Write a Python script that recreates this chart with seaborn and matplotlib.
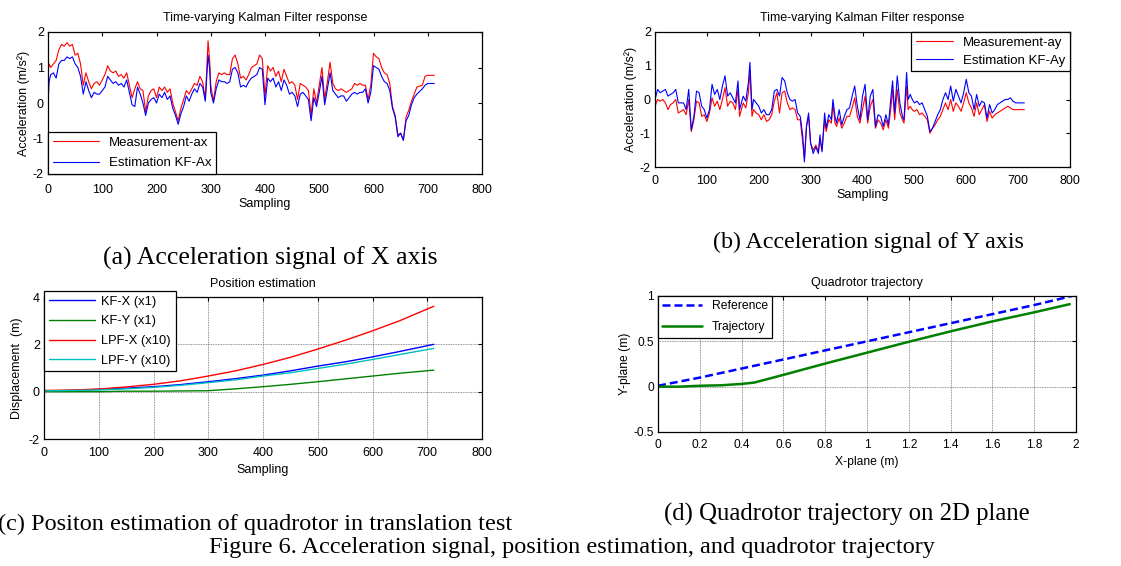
import numpy as np
import pandas as pd
import matplotlib
matplotlib.use("Agg")
import matplotlib.pyplot as plt
import seaborn as sns

# ---------------- data ----------------
# (a) X-axis acceleration
xa_samples = [0, 2, 5, 10, 15, 20, 25, 30, 35, 40,
              45, 50, 55, 60, 65, 70, 75, 80, 85, 90,
              95, 100, 105, 110, 115, 120, 125, 130, 135, 140,
              145, 150, 155, 160, 165, 170, 175, 180, 185, 190,
              195, 200, 205, 210, 215, 220, 225, 230, 235, 240,
              245, 250, 255, 260, 265, 270, 275, 280, 285, 290,
              295, 298, 300, 305, 310, 315, 320, 325, 330, 335,
              340, 345, 350, 355, 360, 365, 370, 375, 380, 385,
              390, 395, 400, 405, 410, 415, 420, 425, 430, 435,
              440, 445, 450, 455, 460, 465, 470, 475, 480, 485,
              490, 495, 500, 505, 510, 515, 520, 525, 530, 535,
              540, 545, 550, 555, 560, 565, 570, 575, 580, 585,
              590, 595, 600, 605, 610, 615, 620, 625, 630, 635,
              640, 645, 650, 655, 660, 665, 670, 675, 680, 690,
              695, 700, 712]
meas_ax = [0.85, 1.1, 1.0, 1.1, 1.2, 1.5, 1.65, 1.6, 1.7, 1.6,
           1.65, 1.35, 1.4, 1.1, 0.5, 0.85, 0.6, 0.4, 0.55, 0.6,
           0.5, 0.65, 0.8, 1.05, 0.9, 0.85, 0.9, 0.75, 0.8, 0.7,
           0.85, 0.5, 0.15, 0.4, 0.6, 0.4, 0.35, -0.25, 0.2, 0.35,
           0.4, 0.15, 0.45, 0.35, 0.45, 0.3, 0.4, 0.0, -0.25, -0.5,
           -0.15, 0.1, 0.35, 0.25, 0.4, 0.55, 0.5, 0.75, 0.6, 0.1,
           1.75, 1.2, 0.5, 0.05, 0.6, 0.85, 0.8, 0.85, 0.8, 0.8,
           1.25, 1.35, 1.1, 0.7, 0.75, 0.65, 0.8, 1.0, 1.05, 1.1,
           1.35, 1.25, 0.2, 1.05, 0.9, 1.0, 0.75, 0.9, 0.6, 0.95,
           0.75, 0.55, 0.6, 0.5, 0.1, 0.55, 0.5, 0.45, 0.35, -0.35,
           0.4, 0.0, 0.5, 1.0, 0.1, 0.6, 1.15, 0.55, 0.4, 0.35,
           0.4, 0.35, 0.3, 0.35, 0.4, 0.55, 0.5, 0.55, 0.5, 0.5,
           0.1, 0.5, 1.4, 1.3, 1.25, 1.0, 0.85, 0.8, 0.55, -0.1,
           -0.35, -0.9, -0.85, -1.05, -0.4, -0.2, 0.05, 0.25, 0.45, 0.5,
           0.75, 0.78, 0.78]
kf_ax = [0.0, 0.6, 0.8, 0.85, 0.7, 1.1, 1.2, 1.2, 1.3, 1.25,
         1.3, 1.1, 1.0, 0.75, 0.25, 0.6, 0.35, 0.15, 0.3, 0.25,
         0.25, 0.35, 0.45, 0.75, 0.65, 0.55, 0.6, 0.5, 0.55, 0.45,
         0.65, 0.3, -0.05, -0.1, 0.45, 0.25, 0.0, -0.35, 0.0, 0.1,
         0.15, 0.0, 0.25, 0.15, 0.3, 0.1, 0.2, -0.15, -0.35, -0.6,
         -0.3, -0.1, 0.2, 0.05, 0.25, 0.4, 0.3, 0.55, 0.45, 0.05,
         1.35, 0.95, 0.3, 0.0, 0.4, 0.65, 0.6, 0.6, 0.55, 0.6,
         0.95, 1.0, 0.85, 0.45, 0.5, 0.45, 0.6, 0.7, 0.75, 0.8,
         1.0, 0.95, -0.05, 0.7, 0.6, 0.7, 0.45, 0.6, 0.35, 0.65,
         0.5, 0.25, 0.3, 0.2, -0.1, 0.25, 0.3, 0.2, 0.1, -0.5,
         0.15, -0.1, 0.3, 0.75, -0.05, 0.4, 0.85, 0.35, 0.25, 0.15,
         0.2, 0.2, 0.05, 0.15, 0.25, 0.3, 0.25, 0.3, 0.3, 0.4,
         0.0, 0.3, 1.05, 1.0, 0.95, 0.75, 0.6, 0.55, 0.35, -0.15,
         -0.4, -0.95, -0.85, -1.05, -0.5, -0.35, -0.05, 0.15, 0.25, 0.4,
         0.5, 0.55, 0.55]

# (b) Y-axis acceleration
xb_samples = [0, 5, 10, 15, 20, 25, 30, 35, 40, 45,
              50, 55, 60, 65, 70, 75, 80, 85, 90, 95,
              100, 105, 110, 115, 120, 125, 130, 135, 140, 145,
              150, 155, 160, 163, 170, 175, 180, 183, 187, 190,
              195, 200, 205, 210, 215, 220, 225, 230, 235, 240,
              245, 250, 255, 260, 265, 270, 275, 280, 285, 288,
              292, 296, 300, 305, 310, 315, 318, 322, 327, 330,
              335, 340, 343, 347, 350, 355, 360, 365, 370, 375,
              380, 385, 390, 395, 400, 405, 410, 415, 420, 425,
              430, 435, 440, 445, 450, 455, 458, 462, 467, 472,
              477, 480, 485, 488, 492, 496, 500, 505, 510, 515,
              520, 525, 530, 535, 540, 545, 550, 555, 560, 565,
              570, 575, 580, 585, 590, 595, 600, 605, 610, 615,
              620, 625, 630, 635, 640, 645, 650, 655, 660, 665,
              670, 675, 680, 685, 690, 695, 712]
meas_ay = [-0.2, 0.0, -0.05, 0.0, -0.1, -0.3, -0.15, -0.1, 0.0, -0.4,
           -0.35, -0.3, -0.45, 0.0, -0.95, -0.6, -0.05, -0.1, -0.5, -0.45,
           -0.65, -0.4, 0.05, -0.2, -0.05, -0.3, 0.0, 0.35, -0.2, -0.05,
           -0.1, -0.3, 0.3, -0.5, -0.1, -0.25, 0.2, 0.85, -0.5, -0.3,
           -0.4, -0.45, -0.6, -0.45, -0.65, -0.6, -0.45, -0.05, 0.2, -0.4,
           0.2, 0.25, -0.1, -0.3, -0.25, -0.3, -0.6, -0.6, -1.3, -1.75,
           -0.8, -0.5, -1.3, -1.5, -1.35, -1.55, -1.2, -1.5, -0.6, -0.95,
           -0.6, -0.7, -0.1, -0.7, -0.8, -0.55, -0.85, -0.7, -0.5, -0.5,
           -0.25, 0.05, -0.5, -0.7, -0.3, 0.1, -0.7, -0.2, 0.0, -0.85,
           -0.6, -0.7, -0.9, -0.6, -0.85, -0.2, 0.3, -0.6, 0.3, -0.4,
           -0.6, -0.7, 0.4, -0.3, -0.2, -0.3, -0.35, -0.3, -0.45, -0.4,
           -0.5, -0.6, -1.0, -0.85, -0.75, -0.6, -0.5, -0.3, -0.1, -0.3,
           0.0, -0.35, -0.1, -0.2, -0.35, -0.1, 0.2, -0.1, -0.25, -0.5,
           -0.1, -0.45, -0.3, -0.15, -0.65, -0.35, -0.55, -0.45, -0.4, -0.35,
           -0.3, -0.25, -0.2, -0.25, -0.3, -0.3, -0.3]
kf_ay = [0.0, 0.3, 0.2, 0.25, 0.3, 0.1, 0.15, 0.2, 0.3, -0.1,
         -0.1, -0.1, -0.3, 0.3, -0.9, -0.5, 0.25, 0.2, -0.2, -0.3,
         -0.55, -0.3, 0.45, 0.15, 0.3, 0.0, 0.4, 0.7, 0.1, 0.2,
         0.05, -0.1, 0.55, -0.3, 0.1, -0.05, 0.5, 1.1, -0.3, 0.0,
         -0.1, -0.2, -0.4, -0.3, -0.45, -0.45, -0.3, 0.25, 0.3, 0.1,
         0.65, 0.55, 0.2, 0.0, -0.05, 0.0, -0.4, -0.5, -1.1, -1.85,
         -0.8, -0.4, -1.3, -1.6, -1.4, -1.6, -1.05, -1.55, -0.4, -0.85,
         -0.45, -0.6, 0.0, -0.5, -0.7, -0.3, -0.75, -0.5, -0.3, -0.25,
         0.1, 0.4, -0.2, -0.6, 0.1, 0.45, -0.6, 0.1, 0.3, -0.8,
         -0.45, -0.5, -0.8, -0.45, -0.75, 0.1, 0.55, -0.4, 0.7, -0.1,
         -0.5, -0.6, 0.8, 0.0, 0.15, 0.0, -0.1, -0.05, -0.15, -0.1,
         -0.3, -0.5, -0.95, -0.85, -0.65, -0.45, -0.3, 0.0, 0.2, 0.0,
         0.4, -0.05, 0.3, 0.1, -0.1, 0.2, 0.6, 0.2, 0.1, -0.3,
         0.15, -0.2, -0.05, -0.1, -0.55, -0.15, -0.4, -0.3, -0.15, -0.1,
         -0.05, 0.0, 0.0, 0.05, -0.05, -0.1, -0.1]

# (c) position estimation
xc_samples = [0, 50, 100, 150, 200, 250, 300, 350, 400, 450, 500, 550, 600, 650, 712]
kf_x_pos = [0.02, 0.05, 0.10, 0.15, 0.21, 0.30, 0.42, 0.55, 0.70, 0.88, 1.08, 1.26, 1.47, 1.70, 2.00]
kf_y_pos = [0.00, 0.00, 0.00, 0.02, 0.02, 0.03, 0.04, 0.12, 0.21, 0.31, 0.42, 0.54, 0.66, 0.78, 0.91]
lpf_x_pos = [0.05, 0.07, 0.11, 0.20, 0.31, 0.46, 0.66, 0.88, 1.15, 1.45, 1.80, 2.17, 2.57, 3.00, 3.61]
lpf_y_pos = [0.03, 0.05, 0.07, 0.12, 0.18, 0.27, 0.38, 0.50, 0.66, 0.80, 0.98, 1.16, 1.36, 1.57, 1.83]

# (d) trajectory
ref_x = [0.0, 0.2, 0.4, 0.6, 0.8, 1.0, 1.2, 1.4, 1.6, 1.8, 1.98]
ref_y = [0.01, 0.10, 0.20, 0.30, 0.40, 0.50, 0.60, 0.70, 0.80, 0.90, 1.00]
traj_x = [0.0, 0.1, 0.2, 0.3, 0.4, 0.46, 0.6, 0.8, 1.0, 1.2, 1.4, 1.6, 1.8, 1.97]
traj_y = [0.0, 0.0, 0.01, 0.015, 0.03, 0.045, 0.13, 0.255, 0.375, 0.495, 0.61, 0.72, 0.82, 0.91]

# ---------------- style ----------------
sns.set_style("white")
plt.rcParams["font.family"] = ["Liberation Sans", "DejaVu Sans"]
plt.rcParams["axes.unicode_minus"] = False
plt.rcParams["text.color"] = "black"
plt.rcParams["axes.labelcolor"] = "black"
plt.rcParams["xtick.color"] = "black"
plt.rcParams["ytick.color"] = "black"
plt.rcParams["axes.linewidth"] = 0.9
plt.rcParams["axes.edgecolor"] = "black"

fig = plt.figure(figsize=(11.21, 5.66), dpi=100)
W, H = 1121.0, 566.0


def add_ax(l, t, r, b):
    return fig.add_axes([l / W, 1 - b / H, (r - l) / W, (b - t) / H])


def matlab_axes(ax, tick_fs=9.0, xpad=6):
    ax.tick_params(direction="in", length=3, width=0.8, top=True, right=True,
                   labelsize=tick_fs, colors="black", pad=3)
    ax.tick_params(axis="x", pad=xpad)
    for s in ax.spines.values():
        s.set_visible(True)
        s.set_color("black")
        s.set_linewidth(0.9)


def matlab_legend(ax, **kw):
    leg = ax.legend(frameon=True, fancybox=False, shadow=False, framealpha=1,
                    edgecolor="black", borderpad=0.35, handletextpad=0.8, **kw)
    leg.get_frame().set_linewidth(0.9)
    return leg


LBL = 9.0
TTL = 9.0

# (a)
ax_a = add_ax(48, 32, 482, 174)
sns.lineplot(x=xa_samples, y=meas_ax, ax=ax_a, color="#ff0000", lw=0.8, label="Measurement-ax")
sns.lineplot(x=xa_samples, y=kf_ax, ax=ax_a, color="#0000ff", lw=0.8, label="Estimation KF-Ax")
ax_a.set_xlim(0, 800)
ax_a.set_ylim(-2, 2)
ax_a.set_xticks(range(0, 801, 100))
ax_a.set_yticks([-2, -1, 0, 1, 2])
matlab_axes(ax_a, xpad=7)
ax_a.set_title("Time-varying Kalman Filter response", fontsize=TTL, pad=8)
ax_a.set_xlabel("Sampling", fontsize=LBL, labelpad=2)
ax_a.set_ylabel("Acceleration (m/s²)", fontsize=LBL, labelpad=2)
matlab_legend(ax_a, loc="lower left", bbox_to_anchor=(0, 0), borderaxespad=0,
              fontsize=9.5, handlelength=3.5, labelspacing=0.62)

# (b)
ax_b = add_ax(655, 32, 1070, 167)
sns.lineplot(x=xb_samples, y=meas_ay, ax=ax_b, color="#ff0000", lw=0.8, label="Measurement-ay")
sns.lineplot(x=xb_samples, y=kf_ay, ax=ax_b, color="#0000ff", lw=0.8, label="Estimation KF-Ay")
ax_b.set_xlim(0, 800)
ax_b.set_ylim(-2, 2)
ax_b.set_xticks(range(0, 801, 100))
ax_b.set_yticks([-2, -1, 0, 1, 2])
matlab_axes(ax_b)
ax_b.set_title("Time-varying Kalman Filter response", fontsize=TTL, pad=8)
ax_b.set_xlabel("Sampling", fontsize=LBL, labelpad=1)
ax_b.set_ylabel("Acceleration (m/s²)", fontsize=LBL, labelpad=2)
matlab_legend(ax_b, loc="upper right", bbox_to_anchor=(1, 1), borderaxespad=0,
              fontsize=9.5, handlelength=2.8, labelspacing=0.42)

# (c)
ax_c = add_ax(44, 297, 482, 439)
sns.lineplot(x=xc_samples, y=kf_x_pos, ax=ax_c, color="#0000ff", lw=1.0, label="KF-X (x1)")
sns.lineplot(x=xc_samples, y=kf_y_pos, ax=ax_c, color="#008000", lw=1.0, label="KF-Y (x1)")
sns.lineplot(x=xc_samples, y=lpf_x_pos, ax=ax_c, color="#ff0000", lw=1.0, label="LPF-X (x10)")
sns.lineplot(x=xc_samples, y=lpf_y_pos, ax=ax_c, color="#00bfbf", lw=1.0, label="LPF-Y (x10)")
ax_c.set_xlim(0, 800)
ax_c.set_ylim(-2, 4)
ax_c.set_xticks(range(0, 801, 100))
ax_c.set_yticks([-2, 0, 2, 4])
matlab_axes(ax_c, xpad=6)
ax_c.grid(True, color="#6e6e6e", lw=0.6, ls=(0, (1, 1)))
ax_c.set_axisbelow(True)
ax_c.set_title("Position estimation", fontsize=TTL, pad=7)
ax_c.set_xlabel("Sampling", fontsize=LBL, labelpad=3)
ax_c.set_ylabel("Displacement  (m)", fontsize=LBL, labelpad=4)
leg_c = ax_c.legend(loc="upper left", bbox_to_anchor=(44 / W, 1 - 291 / H),
                    bbox_transform=fig.transFigure, borderaxespad=0,
                    frameon=True, fancybox=False, framealpha=1, edgecolor="black",
                    fontsize=9.3, handlelength=3.6, labelspacing=0.6, borderpad=0.35,
                    handletextpad=0.5)
leg_c.get_frame().set_linewidth(0.9)

# (d)
ax_d = add_ax(658, 296, 1076, 432)
sns.lineplot(x=ref_x, y=ref_y, ax=ax_d, color="#0000ff", lw=1.8, label="Reference")
ax_d.lines[-1].set_linestyle((0, (3.2, 1.6)))
sns.lineplot(x=traj_x, y=traj_y, ax=ax_d, color="#008000", lw=1.8, label="Trajectory")
ax_d.set_xlim(0, 2)
ax_d.set_ylim(-0.5, 1)
ax_d.set_xticks(np.arange(0, 2.01, 0.2))
ax_d.set_xticklabels(["0", "0.2", "0.4", "0.6", "0.8", "1", "1.2", "1.4", "1.6", "1.8", "2"])
ax_d.set_yticks([-0.5, 0, 0.5, 1])
ax_d.set_yticklabels(["-0.5", "0", "0.5", "1"])
matlab_axes(ax_d, tick_fs=8.6, xpad=5)
ax_d.grid(True, color="#6e6e6e", lw=0.6, ls=(0, (1, 1)))
ax_d.set_axisbelow(True)
ax_d.set_title("Quadrotor trajectory", fontsize=TTL, pad=7)
ax_d.set_xlabel("X-plane (m)", fontsize=8.7, labelpad=4)
ax_d.set_ylabel("Y-plane (m)", fontsize=8.7, labelpad=2)
matlab_legend(ax_d, loc="upper left", bbox_to_anchor=(0, 1), borderaxespad=0,
              fontsize=8.7, handlelength=3.3, labelspacing=0.75)

# captions
serif = ["Liberation Serif", "DejaVu Serif"]
fig.text(270 / W, 1 - 258 / H, "(a) Acceleration signal of X axis", family=serif,
         fontsize=18.5, ha="center", va="center", color="black")
fig.text(868 / W, 1 - 242 / H, "(b) Acceleration signal of Y axis", family=serif,
         fontsize=17.3, ha="center", va="center", color="black")
fig.text(512 / W, 1 - 524 / H, "(c) Positon estimation of quadrotor in translation test",
         family=serif, fontsize=17.5, ha="right", va="center", color="black")
fig.text(847 / W, 1 - 514 / H, "(d) Quadrotor trajectory on 2D plane", family=serif,
         fontsize=17.8, ha="center", va="center", color="black")
fig.text(572 / W, 1 - 547 / H,
         "Figure 6. Acceleration signal, position estimation, and quadrotor trajectory",
         family=serif, fontsize=17.5, ha="center", va="center", color="black")

fig.savefig("out.png", dpi=100, facecolor="white")
